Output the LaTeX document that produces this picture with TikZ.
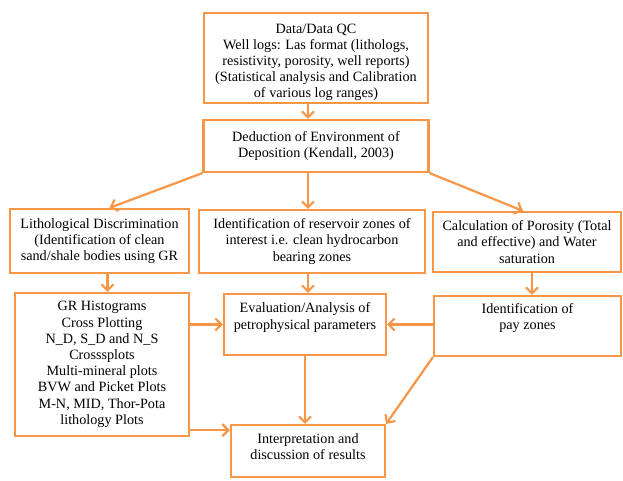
\documentclass[tikz,border=0pt]{standalone}
\usepackage{fontspec}
\setmainfont{Liberation Serif}
\usetikzlibrary{arrows.meta}
\definecolor{flow}{RGB}{247,150,70}

\begin{document}
\begin{tikzpicture}[x=1pt,y=-1pt,
	box/.style={draw=flow,line width=2.2pt,fill=white,align=center,inner sep=0pt,font=\fontsize{14.2}{16.2}\selectfont},
	arr/.style={draw=flow,line width=2.2pt,-{Straight Barb[length=6pt,width=12pt]}}]
	\useasboundingbox (0,0) rectangle (623,480);
	% top row
	\node[box,minimum width=224pt,minimum height=90pt,text height=83pt] (data) at (316,58) {Data/Data QC\\Well logs: Las format (lithologs,\\resistivity, porosity, well reports)\\(Statistical analysis and Calibration\\of various log ranges)};
	\node[box,minimum width=225pt,minimum height=52pt] (ded) at (316,146) {Deduction of Environment of\\Deposition (Kendall, 2003)};
	% second row
	\node[box,minimum width=179pt,minimum height=64pt] (litho) at (99.5,241) {Lithological Discrimination\\(Identification of clean\\sand/shale bodies using GR};
	\node[box,minimum width=226pt,minimum height=63pt] (resv) at (312,241.5) {Identification of reservoir zones of\\interest i.e. clean hydrocarbon\\bearing zones};
	\node[box,minimum width=188pt,minimum height=60pt] (poro) at (527,242) {Calculation of Porosity (Total\\and effective) and Water\\saturation};
	% third row
	\node[box,minimum width=174pt,minimum height=143pt] (gr) at (102,364.5) {GR Histograms\\Cross Plotting\\N\_D, S\_D and N\_S\\Crosssplots\\Multi-mineral plots\\BVW and Picket Plots\\M-N, MID, Thor-Pota\\lithology Plots};
	\node[box,minimum width=162pt,minimum height=61pt,text depth=17pt] (eval) at (305,324.5) {Evaluation/Analysis of\\petrophysical parameters};
	\node[box,minimum width=187pt,minimum height=60pt,text depth=19pt] (pay) at (527.5,326) {Identification of\\pay zones};
	\node[box,minimum width=154pt,minimum height=52pt,text depth=9pt] (interp) at (308,451) {Interpretation and\\discussion of results};
	% connectors
	\draw[arr] ([xshift=-8pt]data.south) -- ([xshift=-8pt]ded.north);
	\draw[arr] (ded.south west) -- ([xshift=10pt]litho.north);
	\draw[arr] ([xshift=-8pt]ded.south) -- ([xshift=-8pt]ded.south |- resv.north);
	\draw[arr] (ded.south east) -- ([xshift=-4pt]poro.north);
	\draw[arr] ([xshift=8pt]litho.south) -- ([xshift=8pt]litho.south |- gr.north);
	\draw[arr] ([xshift=-4pt]resv.south) -- ([xshift=-4pt]resv.south |- eval.north);
	\draw[arr] ([xshift=5pt]poro.south) -- ([xshift=5pt]poro.south |- pay.north);
	\draw[arr] (eval.west -| gr.east) -- (eval.west);
	\draw[arr] (pay.west |- eval.east) -- (eval.east);
	\coordinate (grout) at ([yshift=7pt]gr.south east);
	\draw[arr] (grout) -- (grout -| interp.west);
	\draw[arr] (eval.south) -- (eval.south |- interp.north);
	\draw[arr] (pay.south west) -- (interp.north east);
\end{tikzpicture}
\end{document}
